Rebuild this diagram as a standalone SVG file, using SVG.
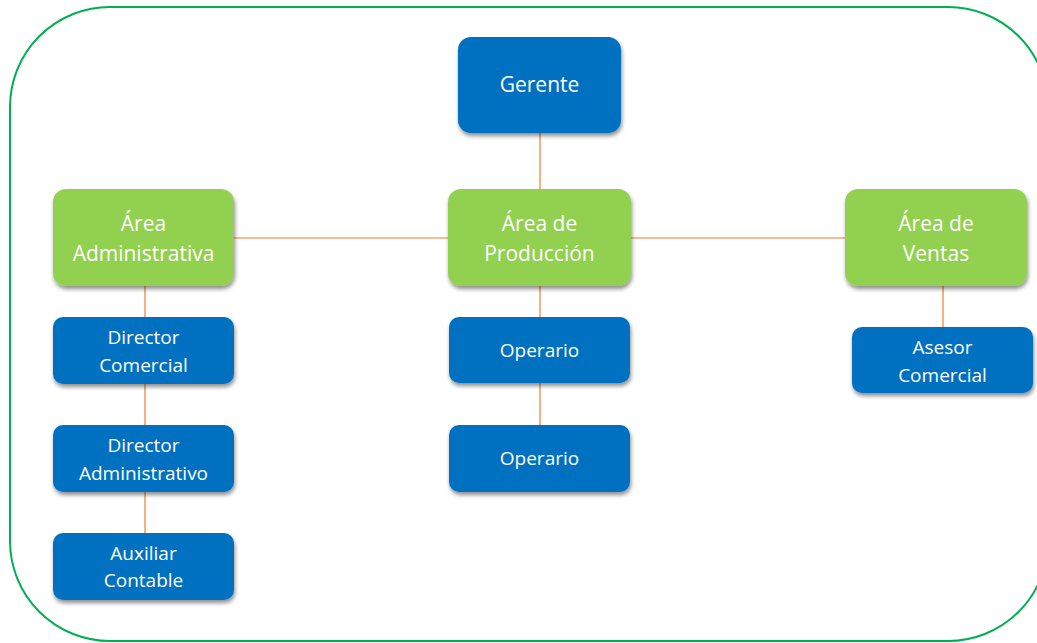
<svg xmlns="http://www.w3.org/2000/svg" width="1037" height="643" viewBox="0 0 1037 643">
<defs>
<filter id="sh" x="-10%" y="-10%" width="125%" height="135%">
<feGaussianBlur in="SourceAlpha" stdDeviation="2"/>
<feOffset dx="1" dy="3" result="b"/>
<feComponentTransfer><feFuncA type="linear" slope="0.45"/></feComponentTransfer>
<feMerge><feMergeNode/><feMergeNode in="SourceGraphic"/></feMerge>
</filter>
</defs>
<style>
.blue{fill:#0070C0;filter:url(#sh)}
.green{fill:#92D050;filter:url(#sh)}
text{font-family:"Open Sans","Noto Sans",sans-serif;fill:#FFFFFF;text-anchor:middle}
.t20{font-size:21px}
.t18{font-size:19px}
.con{stroke:#ED7D31;stroke-width:1.2;fill:none}
</style>
<rect x="10" y="7" width="1038" height="634" rx="100" ry="100" fill="none" stroke="#00B050" stroke-width="2"/>
<g id="connectors">
<line class="con" x1="540" y1="133" x2="540" y2="189"/>
<line class="con" x1="234" y1="238" x2="448" y2="238"/>
<line class="con" x1="631" y1="238" x2="845" y2="238"/>
<line class="con" x1="145" y1="286" x2="145" y2="317"/>
<line class="con" x1="145" y1="384" x2="145" y2="425"/>
<line class="con" x1="145" y1="492" x2="145" y2="533"/>
<line class="con" x1="540" y1="286" x2="540" y2="317"/>
<line class="con" x1="540" y1="383" x2="540" y2="425"/>
<line class="con" x1="943" y1="286" x2="943" y2="327"/>
</g>
<g id="gerente">
<rect class="blue" x="458" y="37" width="163" height="96" rx="13"/>
<text class="t20" x="539.5" y="92">Gerente</text>
</g>
<g id="area-administrativa">
<rect class="green" x="53" y="189" width="181" height="97" rx="13"/>
<text class="t20" x="143.5" y="231">Área</text>
<text class="t20" x="143.5" y="261">Administrativa</text>
</g>
<g id="area-produccion">
<rect class="green" x="448" y="189" width="183" height="97" rx="13"/>
<text class="t20" x="539.5" y="231">Área de</text>
<text class="t20" x="539.5" y="261">Producción</text>
</g>
<g id="area-ventas">
<rect class="green" x="845" y="189" width="182" height="97" rx="13"/>
<text class="t20" x="936" y="231">Área de</text>
<text class="t20" x="936" y="261">Ventas</text>
</g>
<g id="director-comercial">
<rect class="blue" x="53" y="317" width="181" height="67" rx="10"/>
<text class="t18" x="143.5" y="344">Director</text>
<text class="t18" x="143.5" y="372">Comercial</text>
</g>
<g id="director-administrativo">
<rect class="blue" x="53" y="425" width="181" height="67" rx="10"/>
<text class="t18" x="143.5" y="452">Director</text>
<text class="t18" x="143.5" y="480">Administrativo</text>
</g>
<g id="auxiliar-contable">
<rect class="blue" x="53" y="533" width="181" height="67" rx="10"/>
<text class="t18" x="143.5" y="560">Auxiliar</text>
<text class="t18" x="143.5" y="587">Contable</text>
</g>
<g id="operario-1">
<rect class="blue" x="449" y="317" width="181" height="66" rx="10"/>
<text class="t18" x="539.5" y="357">Operario</text>
</g>
<g id="operario-2">
<rect class="blue" x="449" y="425" width="181" height="67" rx="10"/>
<text class="t18" x="539.5" y="465">Operario</text>
</g>
<g id="asesor-comercial">
<rect class="blue" x="852" y="327" width="181" height="66" rx="10"/>
<text class="t18" x="942.5" y="354">Asesor</text>
<text class="t18" x="942.5" y="382">Comercial</text>
</g>
</svg>
